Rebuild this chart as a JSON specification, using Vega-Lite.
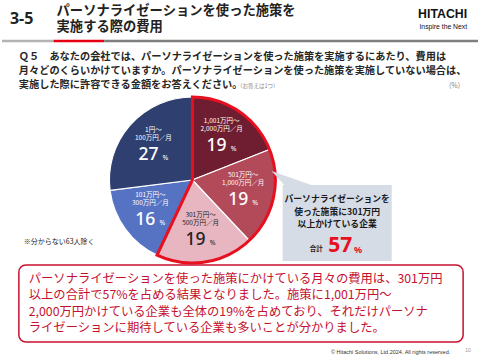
{
  "$schema": "https://vega.github.io/schema/vega-lite/v6.json",
  "width": 480,
  "height": 360,
  "autosize": {"type": "fit", "contains": "padding"},
  "padding": 0,
  "background": "white",
  "config": {"view": {"stroke": null}, "font": "Noto Sans CJK JP", "text": {"font": "Noto Sans CJK JP"}},
  "datasets": {
    "cost": [
      {"band": "1,001万円～\n2,000万円／月", "pct": 19, "rank": 1, "group": "301万円以上"},
      {"band": "501万円～\n1,000万円／月", "pct": 19, "rank": 2, "group": "301万円以上"},
      {"band": "301万円～\n500万円／月", "pct": 19, "rank": 3, "group": "301万円以上"},
      {"band": "101万円～\n300万円／月", "pct": 16, "rank": 4, "group": "300万円以下"},
      {"band": "1円～\n100万円／月", "pct": 27, "rank": 5, "group": "300万円以下"}
    ]
  },
  "data": {"values": [{"slide": "3-5"}]},
  "layer": [
    {
      "mark": {"type": "rule", "stroke": "#B3B3B3", "strokeWidth": 2.5},
      "encoding": {
        "x": {"datum": 0, "type": "quantitative", "scale": {"domain": [0, 480], "nice": false, "zero": false}, "axis": null},
        "x2": {"datum": 52},
        "y": {"datum": 41, "type": "quantitative", "scale": {"domain": [0, 360], "nice": false, "zero": false, "reverse": true}, "axis": null}
      }
    },
    {
      "mark": {"type": "rule", "stroke": "#E60012", "strokeWidth": 2.5},
      "encoding": {"x": {"datum": 52, "type": "quantitative"}, "x2": {"datum": 103}, "y": {"datum": 41, "type": "quantitative"}}
    },
    {
      "mark": {"type": "rule", "stroke": "#7F7F7F", "strokeWidth": 2.5},
      "encoding": {"x": {"datum": 103, "type": "quantitative"}, "x2": {"datum": 480}, "y": {"datum": 41, "type": "quantitative"}}
    },
    {
      "data": {"values": [{"t": "3-5"}]},
      "mark": {"type": "text", "align": "left", "baseline": "middle", "fontSize": 16, "fontWeight": "bold", "font": "Noto Sans", "fill": "#222"},
      "encoding": {"text": {"field": "t"}, "x": {"datum": 8, "type": "quantitative"}, "y": {"datum": 19, "type": "quantitative"}}
    },
    {
      "data": {"values": [{"t": "パーソナライゼーションを使った施策を\n実施する際の費用"}]},
      "mark": {"type": "text", "align": "left", "baseline": "middle", "fontSize": 13.3, "fontWeight": "bold", "lineBreak": "\n", "lineHeight": 16, "fill": "#222"},
      "encoding": {"text": {"field": "t"}, "x": {"datum": 55, "type": "quantitative"}, "y": {"datum": 11, "type": "quantitative"}}
    },
    {
      "data": {"values": [{"t": "HITACHI"}]},
      "mark": {"type": "text", "align": "right", "baseline": "middle", "fontSize": 12.3, "fontWeight": "bold", "font": "Liberation Sans", "fill": "#111"},
      "encoding": {"text": {"field": "t"}, "x": {"datum": 469, "type": "quantitative"}, "y": {"datum": 14, "type": "quantitative"}}
    },
    {
      "data": {"values": [{"t": "Inspire the Next"}]},
      "mark": {"type": "text", "align": "right", "baseline": "middle", "fontSize": 6.8, "font": "Liberation Sans", "fill": "#111"},
      "encoding": {"text": {"field": "t"}, "x": {"datum": 469, "type": "quantitative"}, "y": {"datum": 27, "type": "quantitative"}}
    },
    {
      "data": {"values": [{"t": "Ｑ５　あなたの会社では、パーソナライゼーションを使った施策を実施するにあたり、費用は\n月々どのくらいかけていますか。パーソナライゼーションを使った施策を実施していない場合は、\n実施した際に許容できる金額をお答えください。"}]},
      "mark": {"type": "text", "align": "left", "baseline": "middle", "fontSize": 10.2, "fontWeight": "bold", "lineBreak": "\n", "lineHeight": 14, "fill": "#262626"},
      "encoding": {"text": {"field": "t"}, "x": {"datum": 17, "type": "quantitative"}, "y": {"datum": 57, "type": "quantitative"}}
    },
    {
      "data": {"values": [{"t": "（お答えは1つ）"}]},
      "mark": {"type": "text", "align": "left", "baseline": "middle", "fontSize": 5.5, "fill": "#888"},
      "encoding": {"text": {"field": "t"}, "x": {"datum": 237, "type": "quantitative"}, "y": {"datum": 86, "type": "quantitative"}}
    },
    {
      "data": {"values": [{"t": "(%)"}]},
      "mark": {"type": "text", "align": "right", "baseline": "middle", "fontSize": 7, "fill": "#888"},
      "encoding": {"text": {"field": "t"}, "x": {"datum": 462, "type": "quantitative"}, "y": {"datum": 86, "type": "quantitative"}}
    },
    {
      "data": {"name": "cost"},
      "mark": {"type": "arc", "outerRadius": 83, "stroke": "white", "strokeWidth": 1.2},
      "encoding": {
        "x": {"datum": 192, "type": "quantitative"},
        "y": {"datum": 180, "type": "quantitative"},
        "theta": {"field": "pct", "type": "quantitative", "stack": true},
        "order": {"field": "rank", "type": "quantitative"},
        "color": {
          "field": "band", "type": "nominal", "legend": null,
          "scale": {
            "domain": ["1,001万円～\n2,000万円／月", "501万円～\n1,000万円／月", "301万円～\n500万円／月", "101万円～\n300万円／月", "1円～\n100万円／月"],
            "range": ["#6F1D31", "#B24A5A", "#E8B6C0", "#5672C2", "#2E3F70"]
          }
        }
      }
    },
    {
      "data": {"name": "cost"},
      "transform": [{"aggregate": [{"op": "sum", "field": "pct", "as": "pct"}, {"op": "min", "field": "rank", "as": "rank"}], "groupby": ["group"]}],
      "mark": {"type": "arc", "outerRadius": 83, "fillOpacity": 0, "stroke": "#E8101F", "strokeWidth": 3, "strokeJoin": "miter"},
      "encoding": {
        "x": {"datum": 192, "type": "quantitative"},
        "y": {"datum": 180, "type": "quantitative"},
        "theta": {"field": "pct", "type": "quantitative", "stack": true},
        "order": {"field": "rank", "type": "quantitative"},
        "strokeOpacity": {"condition": {"test": "datum.group === '301万円以上'", "value": 1}, "value": 0}
      }
    },
    {
      "data": {"name": "cost"},
      "mark": {"type": "text", "radius": 52, "dy": -16, "fontSize": 6.5, "lineBreak": "\n", "lineHeight": 8, "baseline": "middle"},
      "encoding": {
        "x": {"datum": 192, "type": "quantitative"},
        "y": {"datum": 180, "type": "quantitative"},
        "theta": {"field": "pct", "type": "quantitative", "stack": true},
        "order": {"field": "rank", "type": "quantitative"},
        "text": {"field": "band"},
        "color": {"condition": {"test": "datum.rank === 3", "value": "#222"}, "value": "white"}
      }
    },
    {
      "data": {"name": "cost"},
      "mark": {"type": "text", "radius": 52, "dy": 9, "dx": -5, "fontSize": 17.5, "font": "Noto Sans", "fontWeight": 500, "baseline": "middle"},
      "encoding": {
        "x": {"datum": 192, "type": "quantitative"},
        "y": {"datum": 180, "type": "quantitative"},
        "theta": {"field": "pct", "type": "quantitative", "stack": true},
        "order": {"field": "rank", "type": "quantitative"},
        "text": {"field": "pct"},
        "color": {"condition": {"test": "datum.rank === 3", "value": "#222"}, "value": "white"}
      }
    },
    {
      "data": {"name": "cost"},
      "mark": {"type": "text", "radius": 52, "dy": 12, "dx": 12, "fontSize": 7, "font": "Noto Sans", "baseline": "middle"},
      "encoding": {
        "x": {"datum": 192, "type": "quantitative"},
        "y": {"datum": 180, "type": "quantitative"},
        "theta": {"field": "pct", "type": "quantitative", "stack": true},
        "order": {"field": "rank", "type": "quantitative"},
        "text": {"value": "%"},
        "color": {"condition": {"test": "datum.rank === 3", "value": "#222"}, "value": "white"}
      }
    },
    {
      "data": {"values": [{"t": "※分からない63人除く"}]},
      "mark": {"type": "text", "align": "left", "baseline": "middle", "fontSize": 7, "fill": "#222"},
      "encoding": {"text": {"field": "t"}, "x": {"datum": 22, "type": "quantitative"}, "y": {"datum": 242, "type": "quantitative"}}
    },
    {
      "mark": {"type": "rect", "fill": "#D6DCE5"},
      "encoding": {"x": {"datum": 283, "type": "quantitative"}, "x2": {"datum": 393}, "y": {"datum": 185, "type": "quantitative"}, "y2": {"datum": 261}}
    },
    {
      "mark": {"type": "point", "filled": true, "fill": "#D6DCE5", "opacity": 1, "strokeWidth": 0, "size": 2304, "shape": "M-1,-0.29L0.958,0.4L-0.375,0.4Z"},
      "encoding": {"x": {"datum": 296, "type": "quantitative"}, "y": {"datum": 178, "type": "quantitative"}}
    },
    {
      "data": {"values": [{"t": "パーソナライゼーションを\n使った施策に301万円\n以上かけている企業"}]},
      "mark": {"type": "text", "align": "center", "baseline": "middle", "fontSize": 8.8, "fontWeight": "bold", "lineBreak": "\n", "lineHeight": 12.5, "fill": "#1a1a1a"},
      "encoding": {"text": {"field": "t"}, "x": {"datum": 338, "type": "quantitative"}, "y": {"datum": 199, "type": "quantitative"}}
    },
    {
      "data": {"values": [{"t": "合計"}]},
      "mark": {"type": "text", "align": "center", "baseline": "middle", "fontSize": 6.5, "fontWeight": "bold", "fill": "#1a1a1a"},
      "encoding": {"text": {"field": "t"}, "x": {"datum": 317, "type": "quantitative"}, "y": {"datum": 249, "type": "quantitative"}}
    },
    {
      "data": {"values": [{"t": "57"}]},
      "mark": {"type": "text", "align": "center", "baseline": "middle", "fontSize": 21, "fontWeight": "bold", "font": "Noto Sans", "fill": "#E8101F"},
      "encoding": {"text": {"field": "t"}, "x": {"datum": 341, "type": "quantitative"}, "y": {"datum": 246, "type": "quantitative"}}
    },
    {
      "data": {"values": [{"t": "%"}]},
      "mark": {"type": "text", "align": "left", "baseline": "middle", "fontSize": 9, "fontWeight": "bold", "font": "Noto Sans", "fill": "#E8101F"},
      "encoding": {"text": {"field": "t"}, "x": {"datum": 355, "type": "quantitative"}, "y": {"datum": 250, "type": "quantitative"}}
    },
    {
      "mark": {"type": "rect", "fill": "white", "stroke": "#C8102E", "strokeWidth": 1.5, "cornerRadius": 7},
      "encoding": {"x": {"datum": 17, "type": "quantitative"}, "x2": {"datum": 465}, "y": {"datum": 265, "type": "quantitative"}, "y2": {"datum": 342}}
    },
    {
      "data": {"values": [{"t": "パーソナライゼーションを使った施策にかけている月々の費用は、301万円\n以上の合計で57%を占める結果となりました。施策に1,001万円～\n2,000万円かけている企業も全体の19%を占めており、それだけパーソナ\nライゼーションに期待している企業も多いことが分かりました。"}]},
      "mark": {"type": "text", "align": "left", "baseline": "middle", "fontSize": 12.3, "lineBreak": "\n", "lineHeight": 16.3, "fill": "#C5112E"},
      "encoding": {"text": {"field": "t"}, "x": {"datum": 27, "type": "quantitative"}, "y": {"datum": 279, "type": "quantitative"}}
    },
    {
      "data": {"values": [{"t": "© Hitachi Solutions, Ltd.2024. All rights reserved."}]},
      "mark": {"type": "text", "align": "right", "baseline": "middle", "fontSize": 5.5, "font": "Liberation Sans", "fill": "#333"},
      "encoding": {"text": {"field": "t"}, "x": {"datum": 452, "type": "quantitative"}, "y": {"datum": 352, "type": "quantitative"}}
    },
    {
      "data": {"values": [{"t": "10"}]},
      "mark": {"type": "text", "align": "center", "baseline": "middle", "fontSize": 5, "font": "Liberation Sans", "fill": "#999"},
      "encoding": {"text": {"field": "t"}, "x": {"datum": 470, "type": "quantitative"}, "y": {"datum": 350, "type": "quantitative"}}
    }
  ]
}
